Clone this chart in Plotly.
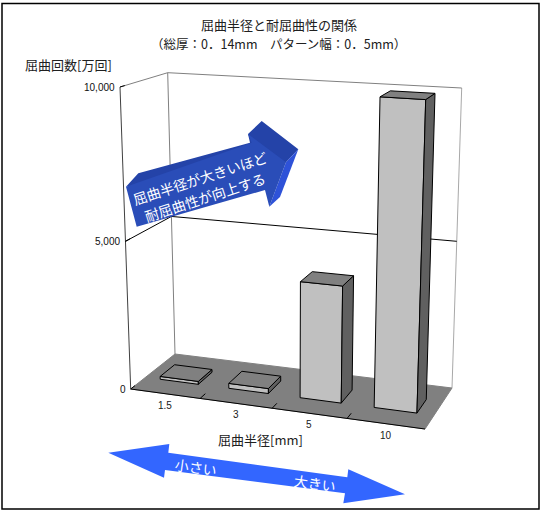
import plotly.graph_objects as go

# データ
categories = ["1.5", "3", "5", "10"]
values = [100, 170, 3900, 10000]
y_ticks = [0, 5000, 10000]
y_tick_labels = ["0", "5,000", "10,000"]
y_max = 10000

JP = "Noto Sans CJK JP"
LATIN = "Liberation Sans"

# 箱の8隅のピクセル位置 (左右, 手前/奥, 下/上)
FL0, FR0, BR0, BL0 = (130.7, 389), (425, 429), (452, 388), (175, 354)
FL1, FR1, BR1, BL1 = (120, 87), (435, 107), (461.7, 88), (167.7, 72.7)


def lerp(a, b, t):
    return (a[0] + (b[0] - a[0]) * t, a[1] + (b[1] - a[1]) * t)


# 疑似3D投影 u:横 v:奥行 val:値
def project(u, v, val):
    fu = u / (u + 1.08 * (1 - u)) if u < 1 else 1
    h = val / y_max
    fh = h / (h + 1.045 * (1 - h)) if h < 1 else 1
    bottom = lerp(lerp(FL0, FR0, fu), lerp(BL0, BR0, fu), v)
    top = lerp(lerp(FL1, FR1, fu), lerp(BL1, BR1, fu), v)
    return lerp(bottom, top, fh)


fig = go.Figure()


def poly(points, fill, line="black", width=1):
    pts = list(points) + [points[0]]
    fig.add_trace(go.Scatter(
        x=[p[0] for p in pts], y=[p[1] for p in pts], mode="lines",
        fill="toself", fillcolor=fill, line=dict(color=line, width=width),
        hoverinfo="skip", showlegend=False))


def line(points, color, width=1):
    fig.add_trace(go.Scatter(
        x=[p[0] for p in points], y=[p[1] for p in points], mode="lines",
        line=dict(color=color, width=width), hoverinfo="skip", showlegend=False))


def label(x, y, text, size=10, color="black", font=LATIN, angle=0):
    fig.add_annotation(x=x, y=y, text=text, showarrow=False, textangle=angle,
                       borderpad=0, font=dict(family=font, size=size, color=color))


# 壁と床
line([project(0, 0, 0), project(0, 0, y_max)], "#404040")
line([project(0, 1, 0), project(0, 1, y_max)], "#808080")
line([project(1, 1, 0), project(1, 1, y_max)], "#a8a8a8")
for t in y_ticks[1:]:
    c = "black" if t < y_max else "#808080"
    line([project(0, 0, t), project(0, 1, t), project(1, 1, t)], c)
poly([project(0, 0, 0), project(1, 0, 0), project(1, 1, 0), project(0, 1, 0)], "#808080", "#808080")
line([project(0, 0, 0), project(1, 0, 0)], "black")

# 目盛り
for t, s in zip(y_ticks, y_tick_labels):
    line([project(0, 0, t), project(0, 0.1, t)], "black")
    p = project(0, 0, t)
    fig.add_annotation(x=p[0] - 3, y=p[1], text=s, showarrow=False, xanchor="right",
                       font=dict(family=LATIN, size=10, color="#101010"))
n = len(categories)
for i in range(1, n):
    line([project(i / n, 0, 0), project(i / n, 0.13, 0)], "black")

# 棒
for i, val in enumerate(values):
    u0, u1 = (i + 0.22) / n, (i + 0.78) / n
    v0, v1 = 1 / 3, 2 / 3
    poly([project(u0, v0, 0), project(u1, v0, 0), project(u1, v0, val), project(u0, v0, val)], "#c0c0c0")
    poly([project(u1, v0, 0), project(u1, v1, 0), project(u1, v1, val), project(u1, v0, val)], "#606060")
    poly([project(u0, v0, val), project(u1, v0, val), project(u1, v1, val), project(u0, v1, val)], "#808080")
    p = project((i + 0.5) / n, 0, 0)
    label(p[0], p[1] + 11.5, categories[i], size=10, color="#202020")

# 文字
label(279, 24.5, "屈曲半径と耐屈曲性の関係", size=13, color="#202020", font=JP)
label(278, 43, "（総厚：0．14mm　パターン幅：0．5mm）", size=12.5, color="#202020", font=JP)
label(68, 64, "屈曲回数[万回]", size=13, color="#202020", font=JP)
label(260, 439, "屈曲半径[mm]", size=13, color="#202020", font=JP)

# 枠
shapes = [dict(type="rect", xref="x", yref="y", x0=2, y0=3.5, x1=539, y1=509,
               line=dict(color="black", width=1.5), layer="below")]


# 説明用の矢印
def path_shape(d, fill):
    shapes.append(dict(type="path", xref="x", yref="y", path=d, fillcolor=fill,
                       line=dict(width=0), layer="above"))


path_shape("M126,186.7 L138.3,173.3 L250,142.7 L248,134 L261.7,121 L298.3,149.3 L286,162.3 Z", "#2443a8")
path_shape("M286,162.3 L298.3,149.3 L280,197 L269.3,206.7 Z", "#2e52d8")
path_shape("M126,186.7 L251.7,142.7 L248,134 L286,162.3 L269.3,206.7 L265,190 L136.7,226.7 Z", "#2a4db8")
path_shape("M108.3,452.7 L169.3,444 L168.3,452.7 L347.3,477.3 L348.3,469.3 L405,494.3 L343.3,503.3 "
           "L345,493.3 L165,470 L164,477.7 Z", "#3366ff")
fig.update_layout(shapes=shapes)

label(200, 178, "屈曲半径が大きいほど", size=14, color="white", font=JP, angle=-18)
label(205, 197, "耐屈曲性が向上する", size=14, color="white", font=JP, angle=-18)
label(196, 467, "小さい", size=14, color="white", font=JP, angle=8)
label(315, 483, "大きい", size=14, color="white", font=JP, angle=8)

fig.update_xaxes(range=[0, 543], visible=False, fixedrange=True)
fig.update_yaxes(range=[515, 0], visible=False, fixedrange=True)
fig.update_layout(width=543, height=515, margin=dict(l=0, r=0, t=0, b=0),
                  paper_bgcolor="white", plot_bgcolor="white", showlegend=False)

fig.write_html("out.html", config=dict(displayModeBar=False),
               post_script="document.body.style.margin='0';")
